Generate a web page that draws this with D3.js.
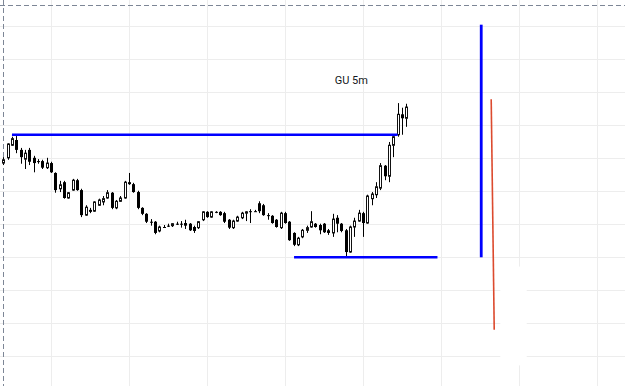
<!DOCTYPE html>
<html>
<head>
<meta charset="utf-8">
<script src="https://cdn.jsdelivr.net/npm/d3@7"></script>
<style>
	html, body { margin: 0; padding: 0; background: #fff; }
	svg { display: block; }
</style>
</head>
<body>
<svg id="chart"></svg>
<script>
// GU 5m, one value per bar
var opens = [
	1.26292,1.26300,1.26319,1.26327,1.26312,1.26298,1.26312,1.26300,1.26295,1.26295,
	1.26285,1.26292,1.26277,1.26253,1.26263,1.26239,1.26251,1.26266,1.26251,1.26213,
	1.26221,1.26219,1.26228,1.26233,1.26239,1.26247,1.26224,1.26234,1.26239,1.26263,
	1.26260,1.26248,1.26224,1.26215,1.26203,1.26203,1.26189,1.26195,1.26197,1.26197,
	1.26200,1.26200,1.26201,1.26200,1.26195,1.26194,1.26206,1.26218,1.26210,1.26218,
	1.26218,1.26216,1.26206,1.26194,1.26204,1.26209,1.26216,1.26219,1.26219,1.26231,
	1.26228,1.26213,1.26212,1.26206,1.26194,1.26216,1.26203,1.26186,1.26168,1.26180,
	1.26190,1.26195,1.26200,1.26198,1.26200,1.26190,1.26186,1.26209,1.26200,1.26190,
	1.26157,1.26195,1.26204,1.26216,1.26201,1.26238,1.26244,1.26254,1.26288,1.26272,
	1.26319,1.26335,1.26366,1.26360
];
var closes = [
	1.26297,1.26321,1.26329,1.26312,1.26301,1.26307,1.26294,1.26292,1.26295,1.26285,
	1.26292,1.26278,1.26251,1.26259,1.26239,1.26247,1.26266,1.26251,1.26213,1.26225,
	1.26218,1.26233,1.26236,1.26238,1.26247,1.26224,1.26234,1.26239,1.26263,1.26260,
	1.26248,1.26224,1.26215,1.26203,1.26203,1.26186,1.26195,1.26195,1.26197,1.26200,
	1.26200,1.26200,1.26197,1.26190,1.26189,1.26203,1.26218,1.26210,1.26218,1.26218,
	1.26213,1.26203,1.26194,1.26204,1.26210,1.26216,1.26218,1.26219,1.26219,1.26219,
	1.26213,1.26213,1.26201,1.26195,1.26216,1.26201,1.26175,1.26168,1.26178,1.26190,
	1.26194,1.26203,1.26195,1.26190,1.26187,1.26186,1.26207,1.26200,1.26189,1.26157,
	1.26195,1.26204,1.26216,1.26201,1.26242,1.26245,1.26256,1.26288,1.26272,1.26319,
	1.26332,1.26366,1.26360,1.26377
];
var highs = [
	1.26301,1.26322,1.26332,1.26333,1.26315,1.26312,1.26315,1.26303,1.26298,1.26297,
	1.26300,1.26294,1.26278,1.26265,1.26265,1.26248,1.26268,1.26268,1.26253,1.26228,
	1.26224,1.26234,1.26238,1.26242,1.26251,1.26248,1.26236,1.26242,1.26265,1.26277,
	1.26262,1.26250,1.26225,1.26216,1.26207,1.26204,1.26197,1.26198,1.26200,1.26201,
	1.26203,1.26204,1.26206,1.26201,1.26197,1.26204,1.26219,1.26219,1.26219,1.26219,
	1.26219,1.26218,1.26207,1.26206,1.26212,1.26218,1.26219,1.26222,1.26221,1.26234,
	1.26230,1.26216,1.26213,1.26207,1.26218,1.26218,1.26204,1.26187,1.26180,1.26192,
	1.26197,1.26219,1.26201,1.26200,1.26201,1.26192,1.26215,1.26213,1.26201,1.26192,
	1.26197,1.26209,1.26221,1.26218,1.26244,1.26248,1.26263,1.26292,1.26289,1.26324,
	1.26335,1.26383,1.26376,1.26382
];
var lows = [
	1.26289,1.26297,1.26318,1.26307,1.26291,1.26283,1.26289,1.26278,1.26291,1.26283,
	1.26283,1.26277,1.26247,1.26248,1.26238,1.26238,1.26250,1.26250,1.26210,1.26212,
	1.26216,1.26218,1.26227,1.26228,1.26238,1.26222,1.26222,1.26233,1.26238,1.26259,
	1.26247,1.26222,1.26213,1.26201,1.26197,1.26184,1.26187,1.26194,1.26195,1.26195,
	1.26198,1.26194,1.26192,1.26189,1.26186,1.26192,1.26204,1.26209,1.26209,1.26216,
	1.26212,1.26201,1.26192,1.26192,1.26203,1.26207,1.26204,1.26201,1.26218,1.26216,
	1.26212,1.26206,1.26200,1.26194,1.26192,1.26200,1.26174,1.26166,1.26166,1.26178,
	1.26186,1.26194,1.26194,1.26184,1.26186,1.26183,1.26180,1.26187,1.26187,1.26150,
	1.26156,1.26180,1.26203,1.26180,1.26200,1.26228,1.26239,1.26251,1.26266,1.26263,
	1.26301,1.26332,1.26335,1.26347
];

// price grid (every 5 pips) and time grid (bar index, every 18 bars)
var priceTicks = d3.range(0, 11).map(function(k) { return 1.2600 + k * 0.0005; });
var timeTicks = d3.range(11, 144, 18);

// drawings on the chart: bar index / price pairs
var levelLines = [
	{ from: 2, to: 91, price: 1.26335 },
	{ from: 67.1, to: 100.2, price: 1.26149 }
];
var rangeLine = { bar: 110.3, from: 1.26149, to: 1.26502 };
var slantLine = { bar1: 112.6, price1: 1.26389, bar2: 113.3, price2: 1.26039 };
var title = { text: "GU 5m", bar: 80.3, price: 1.26412 };
var crosshair = { bar: 0, price: 1.26532 };
// blank label box left by the slanted line
var labelBox = { bar1: 114.7, bar2: 120.8, price1: 1.26135, price2: 1.25985 };

var width = 625, height = 386;

var svg = d3.select("#chart")
	.attr("width", width)
	.attr("height", height);

var x = d3.scaleLinear()
	.domain([0, 144])
	.range([3.3, 3.3 + 144 * 4.333]);

var y = d3.scaleLinear()
	.domain([1.2600, 1.2650])
	.range([355.5, 26]);

var snap = function(v) { return Math.round(v) + 0.5; };

// grid
var grid = svg.append("g").attr("class", "grid")
	.attr("stroke", "#ededed")
	.attr("stroke-width", 1);
grid.selectAll("line.h")
	.data(priceTicks)
	.enter().append("line")
	.attr("class", "h")
	.attr("x1", 0).attr("x2", width)
	.attr("y1", function(d) { return snap(y(d)); })
	.attr("y2", function(d) { return snap(y(d)); });
grid.selectAll("line.v")
	.data(timeTicks)
	.enter().append("line")
	.attr("class", "v")
	.attr("y1", 0).attr("y2", height)
	.attr("x1", function(d) { return snap(x(d)); })
	.attr("x2", function(d) { return snap(x(d)); });

svg.append("rect")
	.attr("x", x(labelBox.bar1))
	.attr("width", x(labelBox.bar2) - x(labelBox.bar1))
	.attr("y", y(labelBox.price1))
	.attr("height", y(labelBox.price2) - y(labelBox.price1))
	.attr("fill", "#fff");

// crosshair
var cross = svg.append("g")
	.attr("stroke", "#7d8696")
	.attr("stroke-width", 1)
	.attr("stroke-dasharray", "5,3");
cross.append("line")
	.attr("x1", 0).attr("x2", width)
	.attr("y1", snap(y(crosshair.price))).attr("y2", snap(y(crosshair.price)));
cross.append("line")
	.attr("y1", 0).attr("y2", height)
	.attr("x1", snap(x(crosshair.bar))).attr("x2", snap(x(crosshair.bar)));

// candles
var bars = d3.range(opens.length).map(function(i) {
	return { i: i, o: opens[i], h: highs[i], l: lows[i], c: closes[i] };
});

var candles = svg.append("g").attr("class", "candles")
	.selectAll("g")
	.data(bars)
	.enter().append("g");

candles.append("line")
	.attr("x1", function(d) { return snap(x(d.i)); })
	.attr("x2", function(d) { return snap(x(d.i)); })
	.attr("y1", function(d) { return y(d.h); })
	.attr("y2", function(d) { return y(d.l); })
	.attr("stroke", "#000")
	.attr("stroke-width", 1);

candles.append("rect")
	.attr("x", function(d) { return d.c > d.o ? Math.round(x(d.i)) - 0.5 : Math.round(x(d.i)) - 1; })
	.attr("width", function(d) { return d.c > d.o ? 2 : 3; })
	.attr("y", function(d) { return y(Math.max(d.o, d.c)); })
	.attr("height", function(d) { return Math.max(1, Math.abs(y(d.o) - y(d.c))); })
	.attr("fill", function(d) { return d.c > d.o ? "#fff" : "#000"; })
	.attr("stroke", function(d) { return d.c > d.o ? "#111" : "none"; })
	.attr("stroke-width", 1);

// blue levels
svg.append("g")
	.selectAll("line")
	.data(levelLines)
	.enter().append("line")
	.attr("x1", function(d) { return x(d.from); })
	.attr("x2", function(d) { return x(d.to); })
	.attr("y1", function(d) { return y(d.price); })
	.attr("y2", function(d) { return y(d.price); })
	.attr("stroke", "#0000ff")
	.attr("stroke-width", 2.6);

svg.append("line")
	.attr("x1", x(rangeLine.bar)).attr("x2", x(rangeLine.bar))
	.attr("y1", y(rangeLine.to)).attr("y2", y(rangeLine.from))
	.attr("stroke", "#0000ff")
	.attr("stroke-width", 2.8);

svg.append("line")
	.attr("x1", x(slantLine.bar1)).attr("y1", y(slantLine.price1))
	.attr("x2", x(slantLine.bar2)).attr("y2", y(slantLine.price2))
	.attr("stroke", "#dc4a2e")
	.attr("stroke-width", 1.6);

// label
svg.append("text")
	.attr("x", x(title.bar))
	.attr("y", y(title.price))
	.attr("text-anchor", "middle")
	.attr("font-family", "Roboto, 'Liberation Sans', sans-serif")
	.attr("font-size", "11px")
	.attr("fill", "#131722")
	.text(title.text);
</script>
</body>
</html>
